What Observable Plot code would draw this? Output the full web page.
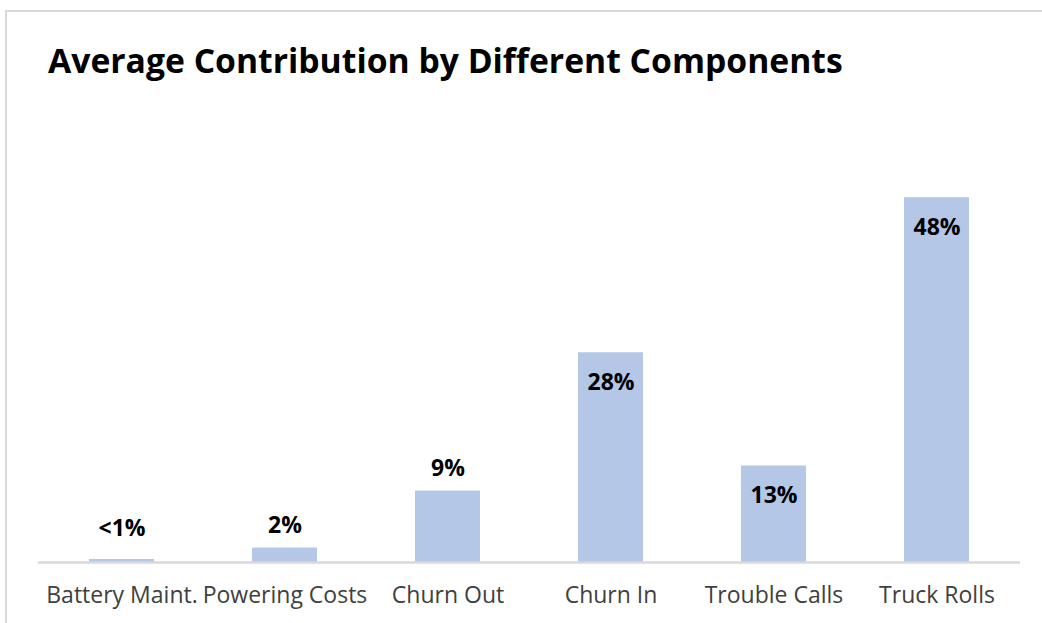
<!DOCTYPE html>
<html>
<head>
<meta charset="utf-8">
<script src="https://cdn.jsdelivr.net/npm/d3@7"></script>
<script src="https://cdn.jsdelivr.net/npm/@observablehq/plot@0.6"></script>
<style>
  html, body { margin: 0; padding: 0; background: #fff; overflow: hidden; }
  body { width: 1042px; height: 623px; position: relative; font-family: "Open Sans", sans-serif; }
  #frame { position: absolute; left: 5px; top: 10px; width: 1100px; height: 700px; border: 2px solid #d9d9d9; box-sizing: border-box; }
  #title { position: absolute; left: 48px; top: 44px; font-size: 33.7px; font-weight: 700; color: #000; white-space: nowrap; line-height: 1; }
  #chart { position: absolute; left: 0; top: 100px; }
</style>
</head>
<body>
<div id="frame"></div>
<div id="title">Average Contribution by Different Components</div>
<div id="chart"></div>
<script>
const categories = ["Battery Maint.", "Powering Costs", "Churn Out", "Churn In", "Trouble Calls", "Truck Rolls"];
const values = [0.4, 1.9, 9.4, 27.6, 12.7, 48];
const valueLabels = ["<1%", "2%", "9%", "28%", "13%", "48%"];

const data = categories.map((c, i) => ({category: c, value: values[i], label: valueLabels[i]}));
const inside = data.filter(d => d.value > 10);
const outside = data.filter(d => d.value <= 10);

const chart = Plot.plot({
  width: 1042,
  height: 523,
  marginLeft: 38,
  marginRight: 22,
  marginTop: 6,
  marginBottom: 61,
  style: {fontFamily: "'Open Sans', sans-serif", background: "transparent", overflow: "visible"},
  x: {domain: categories, paddingInner: 0.6, paddingOuter: 0.3, label: null},
  y: {domain: [0, 60], axis: null},
  marks: [
    Plot.barY(data, {x: "category", y: "value", fill: "#b4c7e7"}),
    Plot.ruleY([0], {stroke: "#d9d9d9", strokeWidth: 2.5}),
    Plot.axisX({tickSize: 0, tickPadding: 24.5, fontSize: 23, color: "#404040", label: null}),
    Plot.text(inside, {x: "category", y: "value", text: "label", dy: 30, fontSize: 23, fontWeight: "bold", fill: "#000", lineAnchor: "middle"}),
    Plot.text(outside, {x: "category", y: d => Math.max(d.value, 1.6), text: "label", dy: -22, fontSize: 23, fontWeight: "bold", fill: "#000", lineAnchor: "middle"})
  ]
});
document.getElementById("chart").appendChild(chart);
</script>
</body>
</html>
